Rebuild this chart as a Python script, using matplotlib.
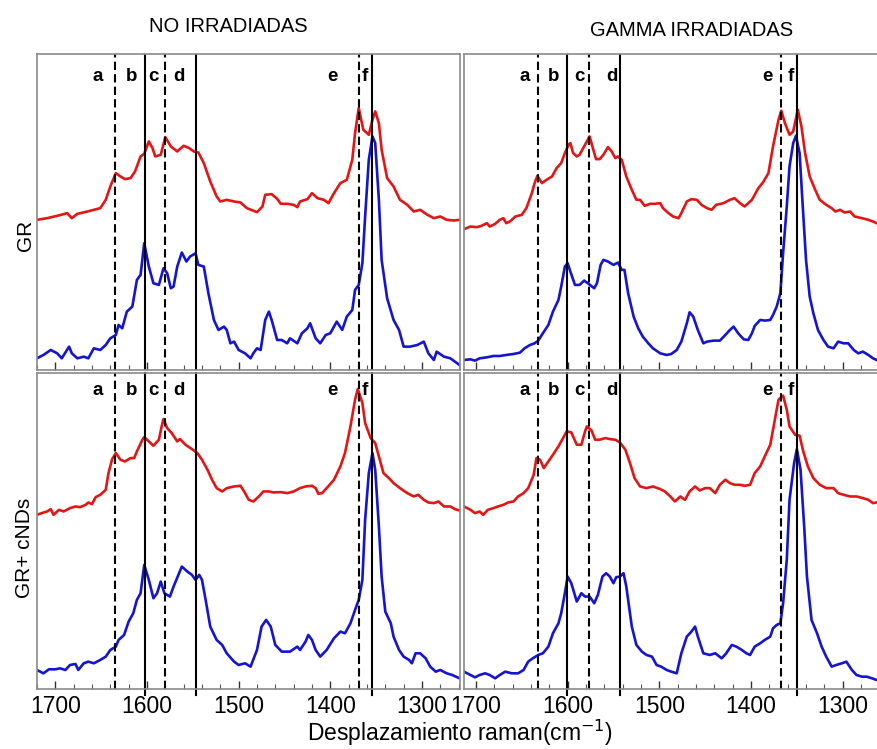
import matplotlib
matplotlib.use("Agg")
import matplotlib.pyplot as plt
from matplotlib.ticker import MultipleLocator

plt.rcParams['font.family'] = ['Liberation Sans', 'DejaVu Sans']

# --- data (Raman shift in cm-1, intensity in arbitrary units) ---
# GR, no irradiadas
gr_no_red_x = [1720, 1709, 1698, 1687, 1682, 1676, 1665, 1658, 1651, 1645, 1640, 1634, 1629, 1624, 1618,
               1613, 1607, 1603, 1598, 1594, 1591, 1585, 1580, 1574, 1567, 1560, 1554, 1549, 1544, 1538,
               1531, 1524, 1520, 1513, 1505, 1498, 1491, 1480, 1474, 1471, 1464, 1458, 1454, 1447, 1440,
               1436, 1433, 1425, 1420, 1414, 1407, 1402, 1396, 1389, 1382, 1376, 1373, 1369, 1364, 1358,
               1354, 1351, 1347, 1344, 1338, 1331, 1324, 1316, 1309, 1302, 1294, 1287, 1280, 1273, 1265, 1259]
gr_no_red_y = [450, 455, 462, 470, 455, 468, 475, 480, 485, 510, 550, 590, 580, 572, 575,
               595, 640, 648, 685, 665, 640, 645, 698, 670, 655, 672, 665, 655, 652, 620,
               565, 520, 505, 510, 505, 502, 485, 473, 490, 525, 527, 513, 498, 498, 495,
               488, 505, 512, 530, 515, 510, 500, 530, 560, 570, 630, 710, 785, 720, 705,
               750, 775, 740, 660, 575, 550, 510, 495, 475, 480, 465, 455, 460, 450, 448, 450]
gr_no_blue_x = [1720, 1713, 1705, 1698, 1693, 1685, 1682, 1676, 1669, 1664, 1658, 1651, 1645, 1640, 1634,
                1631, 1627, 1622, 1616, 1611, 1607, 1603, 1598, 1593, 1587, 1582, 1578, 1574, 1571, 1567,
                1562, 1557, 1553, 1547, 1544, 1538, 1533, 1527, 1522, 1516, 1513, 1509, 1505, 1500, 1493,
                1487, 1484, 1480, 1476, 1471, 1467, 1464, 1458, 1453, 1447, 1444, 1436, 1431, 1425, 1422,
                1416, 1411, 1405, 1400, 1393, 1387, 1382, 1376, 1373, 1369, 1365, 1362, 1358, 1354, 1351,
                1347, 1344, 1338, 1331, 1325, 1320, 1313, 1305, 1298, 1293, 1287, 1284, 1276, 1269, 1264, 1259]
gr_no_blue_y = [35, 45, 60, 50, 35, 70, 50, 35, 40, 35, 65, 60, 75, 95, 105,
                135, 125, 175, 190, 270, 285, 380, 310, 260, 255, 305, 290, 245, 250, 310,
                352, 325, 340, 350, 315, 310, 230, 150, 120, 130, 120, 80, 85, 60, 50,
                35, 50, 65, 60, 150, 175, 150, 90, 90, 80, 95, 80, 110, 125, 140,
                95, 80, 105, 110, 145, 120, 160, 180, 240, 255, 320, 460, 630, 700, 680,
                510, 330, 215, 150, 120, 70, 70, 75, 85, 50, 30, 55, 40, 35, 25, 15]

# GR, gamma irradiadas
gr_g_red_x = [1713, 1706, 1699, 1694, 1688, 1685, 1679, 1674, 1670, 1667, 1663, 1657, 1650, 1645, 1639,
              1636, 1633, 1628, 1623, 1617, 1612, 1607, 1603, 1599, 1597, 1594, 1590, 1587, 1582, 1579,
              1576, 1573, 1569, 1565, 1561, 1556, 1552, 1548, 1545, 1541, 1536, 1530, 1525, 1521, 1516,
              1510, 1505, 1499, 1496, 1490, 1485, 1479, 1476, 1470, 1465, 1459, 1454, 1448, 1443, 1438,
              1430, 1423, 1418, 1412, 1407, 1399, 1392, 1387, 1381, 1376, 1370, 1367, 1363, 1358, 1354,
              1349, 1345, 1341, 1336, 1330, 1325, 1318, 1312, 1308, 1303, 1298, 1292, 1287, 1279, 1272, 1267, 1263]
gr_g_red_y = [422, 430, 428, 432, 440, 430, 438, 450, 455, 440, 445, 460, 465, 485, 530,
              560, 582, 560, 570, 580, 605, 620, 650, 675, 680, 650, 640, 645, 670, 685,
              700, 670, 632, 632, 645, 668, 655, 635, 640, 630, 580, 540, 510, 510, 492,
              498, 498, 500, 485, 470, 460, 455, 470, 505, 512, 510, 495, 485, 480, 495,
              500, 510, 515, 500, 490, 510, 545, 562, 590, 670, 750, 777, 740, 705, 715,
              780, 730, 650, 580, 540, 510, 495, 485, 475, 480, 472, 475, 460, 455, 450, 445, 440]
gr_g_blue_x = [1713, 1706, 1701, 1696, 1688, 1681, 1674, 1667, 1659, 1652, 1647, 1641, 1636, 1632, 1627,
               1621, 1616, 1610, 1607, 1603, 1600, 1597, 1592, 1587, 1582, 1578, 1571, 1568, 1564, 1561,
               1556, 1550, 1545, 1541, 1538, 1534, 1528, 1523, 1518, 1512, 1507, 1499, 1492, 1487, 1481,
               1476, 1470, 1467, 1463, 1458, 1452, 1448, 1441, 1434, 1428, 1423, 1419, 1414, 1408, 1403,
               1399, 1396, 1390, 1385, 1379, 1376, 1372, 1368, 1365, 1361, 1358, 1354, 1351, 1347, 1344,
               1340, 1336, 1332, 1327, 1321, 1316, 1310, 1305, 1299, 1294, 1288, 1283, 1278, 1272, 1267, 1263]
gr_g_blue_y = [30, 32, 28, 35, 38, 42, 42, 45, 48, 52, 65, 75, 80, 88, 110,
               135, 175, 210, 250, 310, 320, 295, 255, 255, 268, 260, 245, 260, 315, 330,
               325, 315, 322, 300, 300, 230, 160, 125, 100, 80, 65, 50, 45, 48, 60,
               85, 140, 173, 160, 120, 80, 85, 88, 88, 105, 120, 130, 110, 92, 90,
               110, 132, 150, 148, 150, 165, 190, 230, 350, 490, 610, 680, 702, 650, 510,
               330, 220, 170, 120, 90, 70, 65, 85, 80, 80, 60, 50, 55, 45, 35, 30]

# GR + cNDs, no irradiadas
nd_no_red_x = [1720, 1715, 1709, 1705, 1702, 1696, 1691, 1684, 1678, 1673, 1667, 1664, 1660, 1656, 1651,
               1645, 1642, 1638, 1634, 1629, 1624, 1618, 1614, 1611, 1605, 1603, 1598, 1593, 1587, 1584,
               1582, 1578, 1573, 1567, 1564, 1558, 1551, 1545, 1540, 1534, 1529, 1524, 1518, 1513, 1505,
               1498, 1494, 1489, 1484, 1478, 1473, 1467, 1462, 1454, 1447, 1440, 1433, 1427, 1420, 1416,
               1413, 1409, 1404, 1396, 1389, 1384, 1378, 1373, 1370, 1365, 1362, 1356, 1351, 1347, 1342,
               1336, 1331, 1324, 1316, 1309, 1304, 1298, 1293, 1287, 1282, 1276, 1269, 1264, 1259]
nd_no_red_y = [522, 527, 532, 539, 522, 537, 532, 542, 547, 545, 552, 559, 554, 575, 582,
               597, 647, 689, 707, 687, 682, 692, 692, 712, 747, 755, 742, 729, 747, 787,
               809, 782, 767, 742, 749, 732, 719, 707, 687, 657, 627, 602, 592, 602, 607,
               609, 592, 567, 562, 577, 592, 592, 589, 590, 587, 592, 602, 607, 609, 602,
               585, 587, 602, 627, 667, 707, 787, 867, 899, 857, 797, 752, 737, 697, 647,
               632, 617, 602, 587, 577, 582, 567, 559, 557, 562, 547, 547, 539, 535]
nd_no_blue_x = [1720, 1713, 1707, 1700, 1695, 1689, 1684, 1678, 1675, 1669, 1664, 1658, 1651, 1645, 1640,
                1634, 1631, 1625, 1620, 1615, 1611, 1607, 1603, 1598, 1593, 1589, 1585, 1581, 1575, 1571,
                1565, 1562, 1556, 1551, 1547, 1543, 1540, 1536, 1531, 1524, 1518, 1513, 1505, 1500, 1493,
                1487, 1480, 1475, 1470, 1465, 1460, 1453, 1444, 1436, 1433, 1427, 1424, 1420, 1416, 1411,
                1404, 1396, 1389, 1384, 1378, 1373, 1369, 1365, 1362, 1358, 1354, 1351, 1347, 1344, 1340,
                1334, 1331, 1325, 1320, 1314, 1311, 1307, 1302, 1296, 1291, 1285, 1280, 1273, 1267, 1259]
nd_no_blue_y = [57, 47, 59, 59, 62, 57, 72, 75, 57, 77, 82, 77, 87, 97, 117,
                127, 147, 162, 202, 227, 267, 287, 372, 327, 272, 287, 322, 287, 277, 307,
                347, 367, 352, 342, 327, 342, 327, 267, 187, 147, 132, 107, 82, 72, 77,
                67, 117, 187, 207, 187, 132, 112, 112, 127, 117, 142, 162, 147, 117, 97,
                117, 152, 172, 167, 197, 237, 267, 327, 507, 647, 707, 657, 487, 337, 232,
                197, 157, 117, 97, 87, 77, 107, 107, 92, 67, 52, 57, 47, 42, 32]

# GR + cNDs, gamma irradiadas
nd_g_red_x = [1713, 1706, 1701, 1696, 1692, 1687, 1681, 1676, 1670, 1665, 1659, 1654, 1648, 1643, 1637,
              1634, 1630, 1626, 1621, 1616, 1610, 1605, 1601, 1596, 1590, 1585, 1581, 1579, 1574, 1570,
              1565, 1559, 1554, 1548, 1543, 1537, 1532, 1527, 1521, 1514, 1507, 1499, 1494, 1488, 1483,
              1477, 1472, 1467, 1461, 1456, 1450, 1445, 1439, 1434, 1428, 1423, 1418, 1412, 1407, 1401,
              1396, 1390, 1385, 1379, 1374, 1370, 1365, 1361, 1358, 1352, 1347, 1343, 1338, 1332, 1325,
              1318, 1310, 1305, 1299, 1292, 1285, 1278, 1272, 1267, 1263]
nd_g_red_y = [547, 537, 527, 532, 522, 537, 542, 547, 552, 559, 562, 577, 587, 602, 642,
              692, 687, 662, 682, 702, 727, 752, 772, 769, 732, 732, 772, 787, 775, 747,
              747, 752, 749, 747, 739, 717, 677, 632, 607, 602, 607, 599, 592, 577, 562,
              577, 567, 592, 607, 595, 602, 602, 587, 612, 627, 617, 612, 612, 609, 612,
              647, 667, 697, 732, 807, 867, 879, 837, 787, 762, 759, 712, 667, 632, 612,
              602, 602, 587, 582, 577, 577, 572, 567, 557, 559]
nd_g_blue_x = [1713, 1706, 1701, 1696, 1690, 1685, 1679, 1674, 1668, 1661, 1654, 1648, 1643, 1638, 1632,
               1627, 1621, 1616, 1610, 1607, 1603, 1600, 1596, 1590, 1585, 1581, 1576, 1571, 1567, 1562,
               1558, 1554, 1550, 1547, 1543, 1539, 1536, 1530, 1525, 1519, 1514, 1508, 1503, 1498, 1492,
               1487, 1481, 1476, 1470, 1465, 1461, 1458, 1452, 1445, 1439, 1432, 1427, 1421, 1416, 1410,
               1405, 1401, 1396, 1390, 1385, 1379, 1376, 1372, 1368, 1365, 1361, 1358, 1353, 1350, 1346,
               1342, 1339, 1334, 1328, 1323, 1318, 1312, 1307, 1301, 1296, 1290, 1285, 1279, 1274, 1268, 1263]
nd_g_blue_y = [52, 42, 35, 42, 47, 42, 32, 42, 52, 47, 47, 57, 82, 92, 102,
               107, 127, 167, 197, 227, 287, 337, 317, 262, 287, 277, 277, 257, 282, 337,
               347, 337, 317, 335, 337, 347, 307, 187, 132, 112, 102, 97, 72, 67, 57,
               52, 47, 107, 157, 172, 187, 157, 107, 102, 107, 92, 107, 132, 127, 117,
               107, 102, 127, 137, 147, 157, 182, 192, 197, 257, 387, 567, 677, 719, 657,
               487, 337, 207, 167, 127, 97, 67, 72, 77, 82, 57, 42, 37, 37, 32, 27]

# vertical reference lines (cm-1) and their styles
lines_left = [1634.5, 1602, 1580, 1546, 1369, 1354]
lines_right = [1632.7, 1600.4, 1577, 1543, 1367, 1349.6]
line_styles = ['--', '-', '--', '-', '--', '-']
band_names = ['a', 'b', 'c', 'd', 'e', 'f']
band_pos_left = [1654, 1617, 1593, 1565, 1398, 1362]
band_pos_right = [1647, 1615, 1587, 1552, 1382, 1357]

RED = '#e31515'
BLUE = '#1414d2'
GRID = '#8a8a8a'

fig = plt.figure(figsize=(8.77, 7.49), dpi=100)

W, H = 877.0, 749.0
def add_panel(x0, y0, w, h):
    return fig.add_axes([x0 / W, 1 - (y0 + h) / H, w / W, h / H])

panels = [
    (add_panel(37, 54, 423, 316), gr_no_red_x, gr_no_red_y, gr_no_blue_x, gr_no_blue_y, 'left', False),
    (add_panel(464, 54, 423, 316), gr_g_red_x, gr_g_red_y, gr_g_blue_x, gr_g_blue_y, 'right', False),
    (add_panel(37, 373, 423, 316), nd_no_red_x, nd_no_red_y, nd_no_blue_x, nd_no_blue_y, 'left', True),
    (add_panel(464, 373, 423, 316), nd_g_red_x, nd_g_red_y, nd_g_blue_x, nd_g_blue_y, 'right', True),
]

for ax, rx, ry, bx, by, side, bottom in panels:
    ax.plot(rx, ry, color=RED, lw=1.9, solid_joinstyle='round')
    ax.plot(bx, by, color=BLUE, lw=1.9, solid_joinstyle='round')
    if side == 'left':
        ax.set_xlim(1720, 1258.5)
        lines, bpos = lines_left, band_pos_left
    else:
        ax.set_xlim(1713, 1251.7)
        lines, bpos = lines_right, band_pos_right
    ax.set_ylim(0, 947)
    for xv, ls in zip(lines, line_styles):
        if ls == '--':
            ax.axvline(xv, color='black', lw=1.5, ls=(0, (4, 2)))
        else:
            ax.axvline(xv, color='black', lw=1.5, ymin=-0.02 if bottom else 0,
                       clip_on=not bottom)
    ytxt = 895 if bottom else 880
    for name, xp in zip(band_names, bpos):
        ax.text(xp, ytxt, name, ha='center', va='center', fontsize=13.5,
                fontweight='bold')
    ax.set_yticks([])
    ax.xaxis.set_major_locator(MultipleLocator(100))
    ax.xaxis.set_minor_locator(MultipleLocator(20))
    ax.tick_params(axis='x', which='major', direction='in', length=6, width=1,
                   color='#333333', labelsize=16.5, pad=4)
    ax.tick_params(axis='x', which='minor', direction='in', length=3.5, width=0.8,
                   color='#555555')
    if not bottom:
        ax.tick_params(axis='x', labelbottom=False)
    for sp in ax.spines.values():
        sp.set_color(GRID)
        sp.set_linewidth(1.2)

fig.text(228 / W, 1 - 26 / H, 'NO IRRADIADAS', ha='center', va='center', fontsize=14.5)
fig.text(692 / W, 1 - 31 / H, 'GAMMA IRRADIADAS', ha='center', va='center', fontsize=14.5)
fig.text(25 / W, 1 - 235 / H, 'GR', ha='center', va='center', rotation=90, fontsize=15)
fig.text(25 / W, 1 - 548 / H, 'GR+ cNDs', ha='center', va='center', rotation=90, fontsize=15)
fig.text(460 / W, 1 - 733 / H, 'Desplazamiento raman(cm$^{-1}$)', ha='center', va='center',
         fontsize=16.5)

fig.savefig('out.png', dpi=100)
